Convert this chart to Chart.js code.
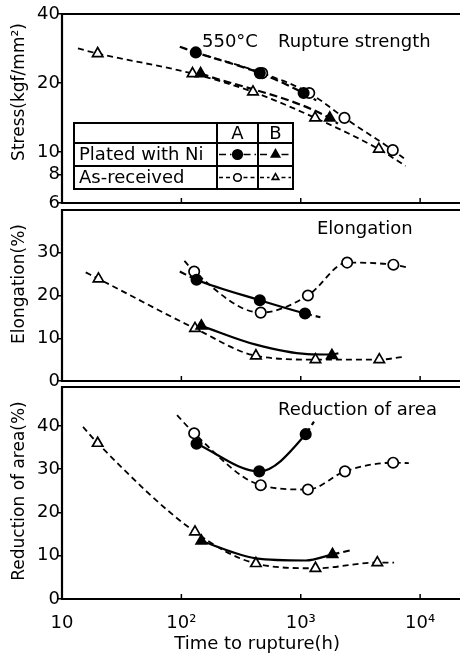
<!DOCTYPE html>
<html>
<head>
<meta charset="utf-8">
<script src="https://cdn.jsdelivr.net/npm/chart.js@4"></script>
<style>
  body { margin: 0; background: #fff; overflow: hidden; }
  .wrap { position: relative; width: 460px; height: 656px; }
  canvas { position: absolute; left: 0; top: 0; }
</style>
</head>
<body>
<div class="wrap">
  <canvas id="stress" width="460" height="656"></canvas>
  <canvas id="elong" width="460" height="656"></canvas>
  <canvas id="reduct" width="460" height="656"></canvas>
</div>
<script>
// [time to rupture (h), value]
// *Curve arrays are the hand-drawn fitted lines through the marks
const stressAPlated = [[132, 27.2], [454, 22.1], [1057, 18.1]];
const stressAPlatedCurve = [[97, 28.8], [132, 27.2], [454, 22.1], [1057, 18.1], [1350, 16.8]];
const stressAAsRec = [[475, 22.1], [1178, 18.1], [2323, 14.1], [5900, 10.2]];
const stressAAsRecCurve = [[132, 27.2], [475, 22.1], [1178, 18.1], [2323, 14.1], [5900, 10.2], [7310, 9.4]];
const stressBPlated = [[145, 22.0], [1750, 14.1]];
const stressBPlatedCurve = [[145, 22.0], [1750, 14.1], [2050, 13.3]];
const stressBAsRec = [[19.9, 26.9], [124, 22.0], [398, 18.3], [1318, 14.1], [4510, 10.3]];
const stressBAsRecCurve = [[13.6, 28.3], [19.9, 26.9], [124, 22.0], [398, 18.3], [1318, 14.1], [4510, 10.3], [7550, 8.7]];

const elongAPlated = [[134, 23.7], [454, 18.9], [1085, 15.8]];
const elongAPlatedCurve = [[97, 25.6], [134, 23.7], [454, 18.9], [1085, 15.8], [1460, 14.9]];
const elongAAsRec = [[128, 25.6], [462, 16.0], [1148, 20.0], [2447, 27.7], [5970, 27.2]];
const elongAAsRecCurve = [[106, 28.1], [128, 25.6], [462, 16.0], [1148, 20.0], [2447, 27.7], [5970, 27.2], [7780, 26.6]];
const elongBPlated = [[147, 12.9], [1824, 6.0]];
const elongBPlatedCurve = [[147, 12.9], [421, 8.5], [1135, 6.3], [1824, 6.2], [2065, 6.5]];
const elongBAsRec = [[20.2, 23.9], [130, 12.3], [421, 5.9], [1328, 5.0], [4550, 5.0]];
const elongBAsRecCurve = [[15.8, 25.4], [20.2, 23.9], [130, 12.3], [421, 5.9], [1328, 5.0], [4550, 5.0], [7080, 5.6]];

const reductAPlated = [[134, 35.9], [449, 29.5], [1100, 38.1]];
const reductAPlatedCurve = [[134, 35.9], [449, 29.5], [1100, 38.1], [1290, 41.0]];
const reductAAsRec = [[128, 38.3], [462, 26.3], [1148, 25.3], [2345, 29.5], [5940, 31.5]];
const reductAAsRecCurve = [[92, 42.5], [128, 38.3], [462, 26.3], [1148, 25.3], [2345, 29.5], [5940, 31.5], [8040, 31.4]];
const reductBPlated = [[147, 13.4], [1845, 10.3]];
const reductBPlatedCurve = [[147, 13.4], [420, 9.4], [1100, 8.9], [1845, 10.3], [2570, 11.2]];
const reductBAsRec = [[19.9, 36.0], [130, 15.5], [421, 8.2], [1328, 7.1], [4380, 8.4]];
const reductBAsRecCurve = [[15, 39.8], [19.9, 36.0], [130, 15.5], [421, 8.2], [1328, 7.1], [4380, 8.4], [6050, 8.4]];

const xTicks = [10, 100, 1000, 10000];
const xTickLabels = ['10', '10²', '10³', '10⁴'];
const stressTicks = [6, 8, 10, 20, 40];
const elongTicks = [0, 10, 20, 30];
const reductTicks = [0, 10, 20, 30, 40];

const FONT = 'DejaVu Sans';
Chart.defaults.font.family = FONT;
Chart.defaults.color = '#000';

const pts = arr => arr.map(([x, y]) => ({ x, y }));

function curveSet(curve, marks, plated, allDashed) {
  const lo = Math.min(...marks.map(m => m[0]));
  const hi = Math.max(...marks.map(m => m[0]));
  return {
    data: pts(curve),
    borderColor: '#000',
    borderWidth: plated ? 2.2 : 1.8,
    borderDash: plated ? [8, 4] : [6, 4],
    pointRadius: 0,
    cubicInterpolationMode: 'monotone',
    fill: false,
    order: 1,
    segment: plated && !allDashed ? {
      borderDash: c => (c.p0.parsed.x >= lo - 1 && c.p1.parsed.x <= hi + 1) ? [] : [7, 4]
    } : {}
  };
}

function markSet(marks, style, filled) {
  return {
    data: pts(marks),
    showLine: false,
    pointStyle: style,
    pointRadius: style === 'triangle' ? 6 : 5.2,
    pointBackgroundColor: filled ? '#000' : '#fff',
    pointBorderColor: '#000',
    pointBorderWidth: 1.7,
    order: 0
  };
}

const decor = {
  id: 'decor',
  beforeDatasetsDraw(chart, args, o) {
    const { ctx, chartArea: a, scales: { x } } = chart;
    ctx.save();
    ctx.strokeStyle = '#000';
    ctx.lineWidth = 2.2;
    ctx.beginPath();
    ctx.moveTo(chart.width, a.top);
    ctx.lineTo(a.left, a.top);
    ctx.lineTo(a.left, a.bottom);
    ctx.lineTo(chart.width, a.bottom);
    ctx.stroke();
    ctx.lineWidth = 1.5;
    xTicks.slice(1).forEach(v => {
      const px = x.getPixelForValue(v);
      ctx.beginPath();
      ctx.moveTo(px, a.bottom);
      ctx.lineTo(px, a.bottom - 5);
      ctx.stroke();
    });
    ctx.restore();
  },
  afterDraw(chart, args, o) {
    const { ctx } = chart;
    ctx.save();
    ctx.fillStyle = '#000';
    ctx.textBaseline = 'middle';
    ctx.textAlign = 'left';
    ctx.font = `18px "${FONT}"`;
    (o.notes || []).forEach(n => ctx.fillText(n.text, n.x, n.y));
    ctx.translate(20, o.titleY);
    ctx.rotate(-Math.PI / 2);
    ctx.textAlign = 'center';
    ctx.font = `17px "${FONT}"`;
    ctx.fillText(o.title, 0, 0);
    ctx.restore();
    if (o.table) drawTable(ctx);
  }
};

function drawTable(ctx) {
  const L = 74, R = 293, T = 123, B = 189, c1 = 217, c2 = 258, r1 = 143, r2 = 166;
  ctx.save();
  ctx.fillStyle = '#fff';
  ctx.fillRect(L, T, R - L, B - T);
  ctx.strokeStyle = '#000';
  ctx.lineWidth = 2;
  ctx.strokeRect(L, T, R - L, B - T);
  ctx.beginPath();
  ctx.moveTo(L, r1); ctx.lineTo(R, r1);
  ctx.moveTo(L, r2); ctx.lineTo(R, r2);
  ctx.moveTo(c1, T); ctx.lineTo(c1, B);
  ctx.moveTo(c2, T); ctx.lineTo(c2, B);
  ctx.stroke();
  ctx.fillStyle = '#000';
  ctx.font = `18px "${FONT}"`;
  ctx.textBaseline = 'middle';
  ctx.textAlign = 'center';
  ctx.fillText('A', (c1 + c2) / 2, (T + r1) / 2 + 1);
  ctx.fillText('B', (c2 + R) / 2, (T + r1) / 2 + 1);
  ctx.textAlign = 'left';
  ctx.fillText('Plated with Ni', L + 5, (r1 + r2) / 2 + 1);
  ctx.fillText('As-received', L + 5, (r2 + B) / 2 + 1);
  const sample = (x0, x1, y, style, filled, dash) => {
    const cx = (x0 + x1) / 2;
    ctx.lineWidth = 1.6;
    ctx.setLineDash(dash);
    ctx.beginPath();
    ctx.moveTo(x0 + 2, y); ctx.lineTo(cx - 6, y);
    ctx.moveTo(cx + 6, y); ctx.lineTo(x1 - 2, y);
    ctx.stroke();
    ctx.setLineDash([]);
    ctx.fillStyle = filled ? '#000' : '#fff';
    Chart.helpers.drawPoint(ctx, { pointStyle: style, radius: filled ? 4.8 : 3.8, borderWidth: 1.5 }, cx, y);
  };
  const y2 = (r1 + r2) / 2, y3 = (r2 + B) / 2;
  sample(c1, c2, y2, 'circle', true, [7, 4]);
  sample(c2, R, y2, 'triangle', true, [7, 4]);
  sample(c1, c2, y3, 'circle', false, [4, 3]);
  sample(c2, R, y3, 'triangle', false, [4, 3]);
  ctx.restore();
}

function panel(id, p) {
  const plateAll = !!p.plateDashed;
  new Chart(document.getElementById(id), {
    type: 'line',
    data: {
      datasets: [
        markSet(p.aPl, 'circle', true),
        markSet(p.bPl, 'triangle', true),
        markSet(p.aAs, 'circle', false),
        markSet(p.bAs, 'triangle', false),
        curveSet(p.aPlC, p.aPl, true, plateAll),
        curveSet(p.bPlC, p.bPl, true, plateAll),
        curveSet(p.aAsC, p.aAs, false),
        curveSet(p.bAsC, p.bAs, false)
      ]
    },
    options: {
      responsive: false,
      animation: false,
      events: [],
      layout: { padding: { top: p.top, bottom: p.bottom, left: 0, right: 0 } },
      plugins: {
        legend: { display: false },
        tooltip: { enabled: false },
        decor: { notes: p.notes, title: p.title, titleY: p.titleY, table: p.table }
      },
      scales: {
        x: {
          type: 'logarithmic',
          min: 10,
          max: 18600,
          display: p.showX,
          afterBuildTicks: s => { s.ticks = xTicks.map(v => ({ value: v })); },
          afterFit: s => { if (p.showX) s.height = 57; },
          grid: { display: false },
          border: { display: false },
          ticks: {
            padding: 6,
            maxRotation: 0,
            autoSkip: false,
            font: { size: 18 },
            callback: (v, i) => xTickLabels[i]
          },
          title: {
            display: true,
            text: 'Time to rupture(h)',
            font: { size: 18 },
            padding: { top: 0, bottom: 1 }
          }
        },
        y: {
          type: p.yType,
          min: p.yMin,
          max: p.yMax,
          afterBuildTicks: s => { s.ticks = p.yTicks.map(v => ({ value: v })); },
          afterFit: s => { s.width = 62; },
          grid: { drawOnChartArea: false, tickLength: 4, color: '#000', lineWidth: 1.5 },
          border: { display: false },
          ticks: { padding: -2, font: { size: 18 }, autoSkip: false, callback: v => String(v) }
        }
      }
    },
    plugins: [decor]
  });
}

panel('stress', {
  top: 14, bottom: 656 - 203, showX: false,
  yType: 'logarithmic', yMin: 6, yMax: 40, yTicks: stressTicks,
  aPl: stressAPlated, aPlC: stressAPlatedCurve, aAs: stressAAsRec, aAsC: stressAAsRecCurve,
  bPl: stressBPlated, bPlC: stressBPlatedCurve, bAs: stressBAsRec, bAsC: stressBAsRecCurve,
  plateDashed: true,
  title: 'Stress(kgf/mm²)', titleY: 92,
  notes: [{ text: '550°C', x: 202, y: 42 }, { text: 'Rupture strength', x: 278, y: 42 }],
  table: true
});

panel('elong', {
  top: 210, bottom: 656 - 381, showX: false,
  yType: 'linear', yMin: 0, yMax: 40, yTicks: elongTicks,
  aPl: elongAPlated, aPlC: elongAPlatedCurve, aAs: elongAAsRec, aAsC: elongAAsRecCurve,
  bPl: elongBPlated, bPlC: elongBPlatedCurve, bAs: elongBAsRec, bAsC: elongBAsRecCurve,
  title: 'Elongation(%)', titleY: 284,
  notes: [{ text: 'Elongation', x: 317, y: 229 }]
});

panel('reduct', {
  top: 387, bottom: 0, showX: true,
  yType: 'linear', yMin: 0, yMax: 49, yTicks: reductTicks,
  aPl: reductAPlated, aPlC: reductAPlatedCurve, aAs: reductAAsRec, aAsC: reductAAsRecCurve,
  bPl: reductBPlated, bPlC: reductBPlatedCurve, bAs: reductBAsRec, bAsC: reductBAsRecCurve,
  title: 'Reduction of area(%)', titleY: 491,
  notes: [{ text: 'Reduction of area', x: 278, y: 410 }]
});
</script>
</body>
</html>
